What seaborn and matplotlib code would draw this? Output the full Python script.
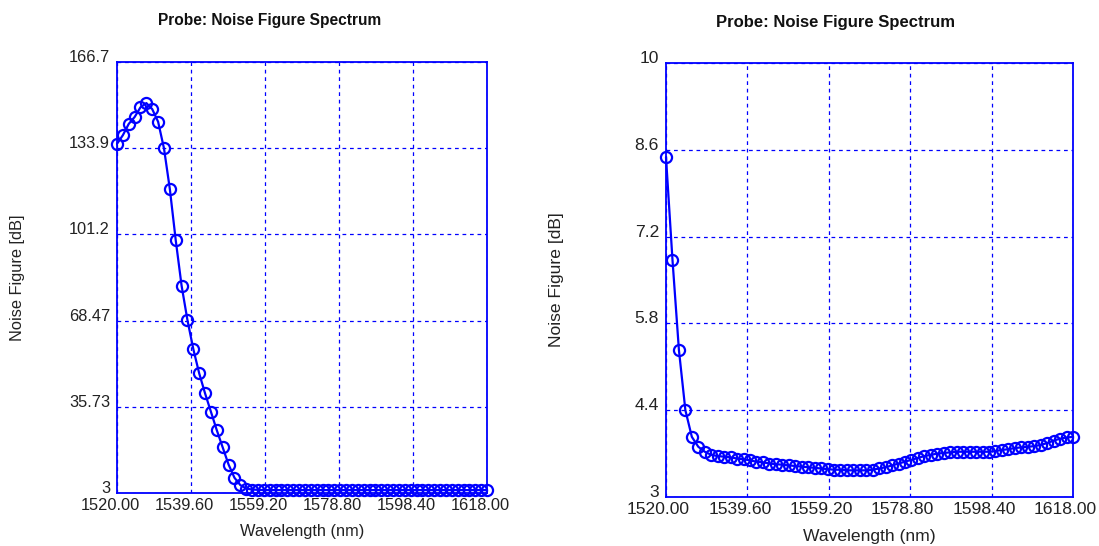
import numpy as np
import pandas as pd
import seaborn as sns
import matplotlib.pyplot as plt
from matplotlib.transforms import ScaledTranslation

wavelength = np.linspace(1520, 1618, 64)

nf_left = [135.6, 138.9, 143.2, 145.8, 149.5, 151.1, 148.8, 144.0, 133.9, 118.4,
           99.0, 81.7, 68.6, 57.6, 48.4, 40.8, 33.8, 26.8, 20.3, 13.8,
           8.8, 6.0, 4.7, 4.3, 4.2, 4.1, 4.1, 4.1, 4.1, 4.1,
           4.1, 4.1, 4.1, 4.1, 4.1, 4.1, 4.1, 4.1, 4.1, 4.1,
           4.1, 4.1, 4.1, 4.1, 4.1, 4.1, 4.1, 4.1, 4.1, 4.1,
           4.1, 4.1, 4.1, 4.1, 4.1, 4.1, 4.1, 4.1, 4.1, 4.1,
           4.1, 4.1, 4.1, 4.1]

nf_right = [8.48, 6.83, 5.37, 4.40, 3.97, 3.81, 3.73, 3.68, 3.66, 3.65,
            3.64, 3.62, 3.61, 3.59, 3.57, 3.56, 3.54, 3.53, 3.52, 3.51,
            3.50, 3.49, 3.48, 3.47, 3.46, 3.45, 3.44, 3.44, 3.43, 3.43,
            3.43, 3.43, 3.44, 3.46, 3.48, 3.51, 3.54, 3.57, 3.60, 3.63,
            3.66, 3.68, 3.70, 3.71, 3.72, 3.73, 3.73, 3.73, 3.73, 3.73,
            3.73, 3.74, 3.76, 3.77, 3.79, 3.80, 3.81, 3.82, 3.84, 3.87,
            3.91, 3.94, 3.96, 3.97]

x_ticks = [1520.00, 1539.60, 1559.20, 1578.80, 1598.40, 1618.00]
x_labels = ["1520.00", "1539.60", "1559.20", "1578.80", "1598.40", "1618.00"]
y_ticks_left = [3, 35.73, 68.47, 101.2, 133.9, 166.7]
y_labels_left = ["3", "35.73", "68.47", "101.2", "133.9", "166.7"]
y_ticks_right = [3, 4.4, 5.8, 7.2, 8.6, 10]
y_labels_right = ["3", "4.4", "5.8", "7.2", "8.6", "10"]

sns.set_style("white")
plt.rcParams['font.family'] = ['Liberation Sans', 'DejaVu Sans']

blue = "#0000ff"
fig = plt.figure(figsize=(10.99, 5.46), dpi=100)
ax1 = fig.add_axes([117 / 1099, 1 - 493 / 546, 370 / 1099, 431 / 546])
ax2 = fig.add_axes([666 / 1099, 1 - 497 / 546, 407 / 1099, 434 / 546])


def draw(ax, y, yt, yl, fs, title_xy, ylab_x, xlab_y, shift_px):
    df = pd.DataFrame({"wl": wavelength, "nf": y})
    sns.lineplot(data=df, x="wl", y="nf", ax=ax, color=blue, linewidth=1.6,
                 marker="o", markersize=8, markerfacecolor="none",
                 markeredgecolor=blue, markeredgewidth=1.6, clip_on=False, zorder=5)
    ax.set_xlim(1520, 1618)
    ax.set_ylim(yt[0], yt[-1])
    ax.set_xticks(x_ticks)
    ax.set_xticklabels(x_labels, fontsize=fs, color="#222222")
    ax.set_yticks(yt)
    ax.set_yticklabels(yl, fontsize=fs, color="#222222", va="baseline")
    ax.tick_params(axis="x", length=0, pad=3.5)
    ax.tick_params(axis="y", length=0, pad=5)
    off = ScaledTranslation(-shift_px / 100, 0, fig.dpi_scale_trans)
    for lab in ax.get_xticklabels():
        lab.set_transform(lab.get_transform() + off)
    ax.grid(True, color=blue, linestyle=(0, (3, 3)), linewidth=0.9)
    for s in ax.spines.values():
        s.set_color(blue)
        s.set_linewidth(1.3)
    ax.set_xlabel("Wavelength (nm)", fontsize=fs, color="#222222")
    ax.set_ylabel("Noise Figure [dB]", fontsize=fs, color="#222222")
    ax.yaxis.set_label_coords(ylab_x, 0.5)
    ax.xaxis.set_label_coords(0.5, xlab_y)
    fig.text(title_xy[0] / 1099, 1 - title_xy[1] / 546, "Probe: Noise Figure Spectrum",
             ha="center", va="center", fontsize=fs - 0.6, fontweight="bold",
             color="#111111")


draw(ax1, nf_left, y_ticks_left, y_labels_left, 11.8, (270, 20), -0.249, -0.072, 7)
draw(ax2, nf_right, y_ticks_right, y_labels_right, 12.6, (836, 22), -0.251, -0.074, 7.5)

fig.savefig("out.png", dpi=100)
